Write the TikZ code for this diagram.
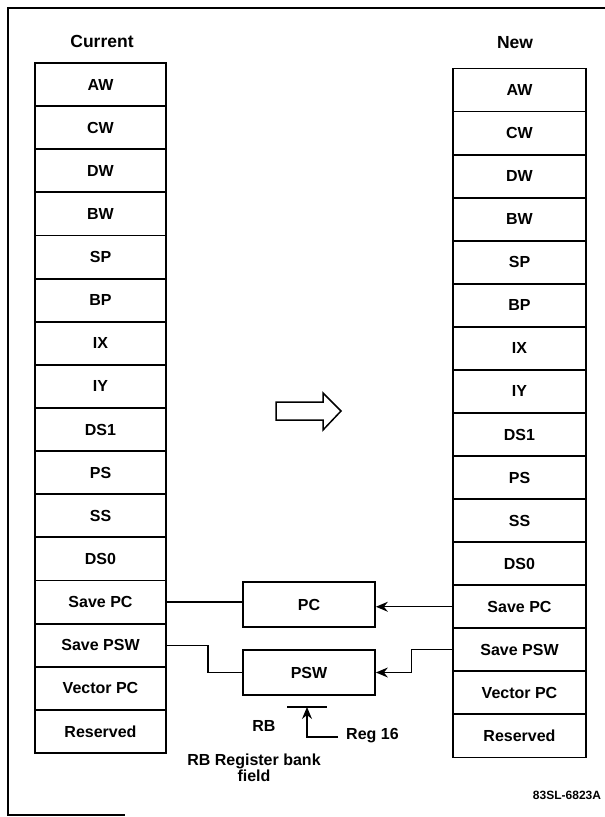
\documentclass[tikz,border=0pt]{standalone}
\usepackage{fontspec}
\setmainfont{Liberation Sans}
\newcommand{\labfont}{\bfseries}
\usetikzlibrary{arrows.meta}
\tikzset{
  reg/.style={draw, line width=1.8pt, minimum height=43.1pt, inner sep=0pt, font=\labfont\fontsize{16}{18}\selectfont},
  regL/.style={reg, minimum width=131pt},
  regR/.style={reg, minimum width=133pt},
  midbox/.style={draw, line width=1.8pt, minimum width=132pt, minimum height=45pt, inner sep=0pt, font=\labfont\fontsize{16}{18}\selectfont},
  head/.style={font=\bfseries\fontsize{17.5}{20}\selectfont},
  lbl/.style={font=\labfont\fontsize{16}{18}\selectfont, inner sep=0pt},
  conn/.style={line width=1.2pt},
  arr/.style={conn, -{Stealth[length=12pt,width=10pt,inset=4pt]}},
  frame/.style={line width=1.2pt}
}
\begin{document}
\begin{tikzpicture}[x=1pt,y=-1pt]
\useasboundingbox (0,0) rectangle (605,817);
% frame
\draw[frame] (605,8) -- (8,8) -- (8,815) -- (125,815);
% headings
\node[head] (hcur) at (102,41) {Current};
\node[head] (hnew) at (515,43) {New};
% columns
\foreach \t [count=\i] in {AW,CW,DW,BW,SP,BP,IX,IY,DS1,PS,SS,DS0,Save PC,Save PSW,Vector PC,Reserved}{
  \node[regL] (L\i) at (100.5,{63+(\i-0.5)*43.125}) {\t};
  \node[regR] (R\i) at (519.5,{68.5+(\i-0.5)*43.06}) {\t};
}
% middle boxes
\node[midbox] (pc) at (309,604.5) {PC};
\node[midbox] (psw) at (309,672.5) {PSW};
% connectors
\draw[conn] (L13.east) -- (L13.east -| pc.west);
\draw[arr] (R13.west) -- (R13.west -| pc.east);
\draw[conn] (L14.east) -- ++(41,0) |- (psw.west);
\draw[arr] (R14.west) -- ++(-41,0) |- (psw.east);
% RB field
\coordinate (rbl) at (287,707);
\coordinate (rbr) at (327,707);
\coordinate (rbm) at (307,707);
\coordinate (r16) at (338,737);
\draw[conn] (rbl) -- (rbr);
\draw[arr] (r16) -| (rbm);
\node[lbl] (rb) at (264,726) {RB};
\node[lbl, anchor=west] (reg16) at (346,736) {Reg 16};
\node[lbl, align=center, font=\labfont\fontsize{16}{16.5}\selectfont] (rbtext) at (254,768) {RB Register bank\\field};
% block arrow
\draw[line width=1.5pt] (276,402) -- (323,402) -- (323,393) -- (341,411) -- (323,430) -- (323,420) -- (276,420) -- cycle;
% figure id
\node[font=\labfont\fontsize{12}{14}\selectfont, inner sep=0pt] (fid) at (567,795) {83SL-6823A};
\end{tikzpicture}
\end{document}
